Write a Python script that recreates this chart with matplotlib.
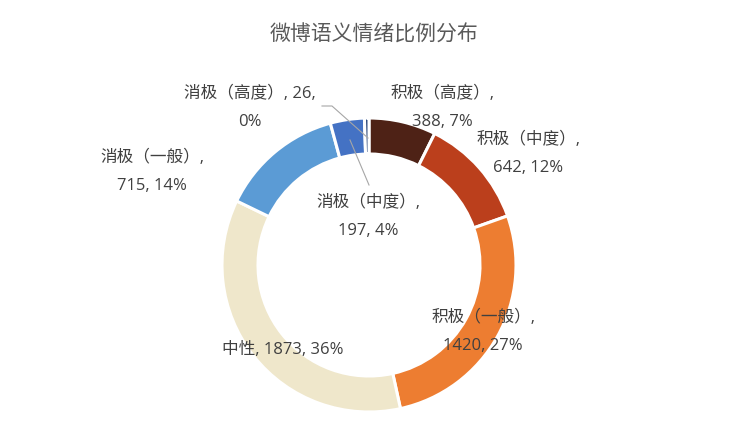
import numpy as np
import matplotlib
matplotlib.use("Agg")
from matplotlib import pyplot as plt

plt.rcParams['font.family'] = ['Open Sans', 'Noto Sans CJK SC', 'DejaVu Sans']

title = "微博语义情绪比例分布"
categories = ["积极（高度）", "积极（中度）", "积极（一般）", "中性",
              "消极（一般）", "消极（中度）", "消极（高度）"]
values = [388, 642, 1420, 1873, 715, 197, 26]
colors = ["#4E2216", "#BB3F1C", "#ED7D31", "#EFE7CB",
          "#5B9BD5", "#4472C4", "#264478"]

W, H = 748, 442
fig = plt.figure(figsize=(W / 100, H / 100), dpi=100)
ax = fig.add_axes([0, 0, 1, 1])

cx, cy, R = 369, H - 265, 147
ax.pie(values, colors=colors, startangle=90, counterclock=False,
       center=(cx, cy), radius=R, frame=True,
       wedgeprops=dict(width=36, edgecolor="white", linewidth=2.2))
ax.set_xlim(0, W)
ax.set_ylim(0, H)
ax.set_aspect("equal")
ax.axis("off")

total = sum(values)
pct = [round(v / total * 100) for v in values]

# label positions (image pixel coords, centre of each label block)
label_pos = [(442, 108), (528, 154), (483, 332), (283, 350),
             (152, 172), (368, 217), (250, 108)]
txt_color = "#404040"
for i, (name, v, p) in enumerate(zip(categories, values, pct)):
    x, y = label_pos[i]
    if name == "中性":
        s = f"{name}, {v}, {p}%"
    elif name == "消极（高度）":
        s = f"{name}, {v},\n{p}%"
    else:
        s = f"{name},\n{v}, {p}%"
    ax.text(x, H - y, s, ha="center", va="center", fontsize=12,
            color=txt_color, linespacing=1.95)

# leader lines
lc = "#A6A6A6"
ax.plot([322, 332, 368], [H - 106, H - 106, H - 138], color=lc, lw=0.8)
ax.plot([350, 369], [H - 140, H - 185], color=lc, lw=0.8)

fig.text(0.5, 1 - 35 / H, title, ha="center", va="center",
         fontsize=15, color="#595959")

fig.savefig("out.png", dpi=100)
